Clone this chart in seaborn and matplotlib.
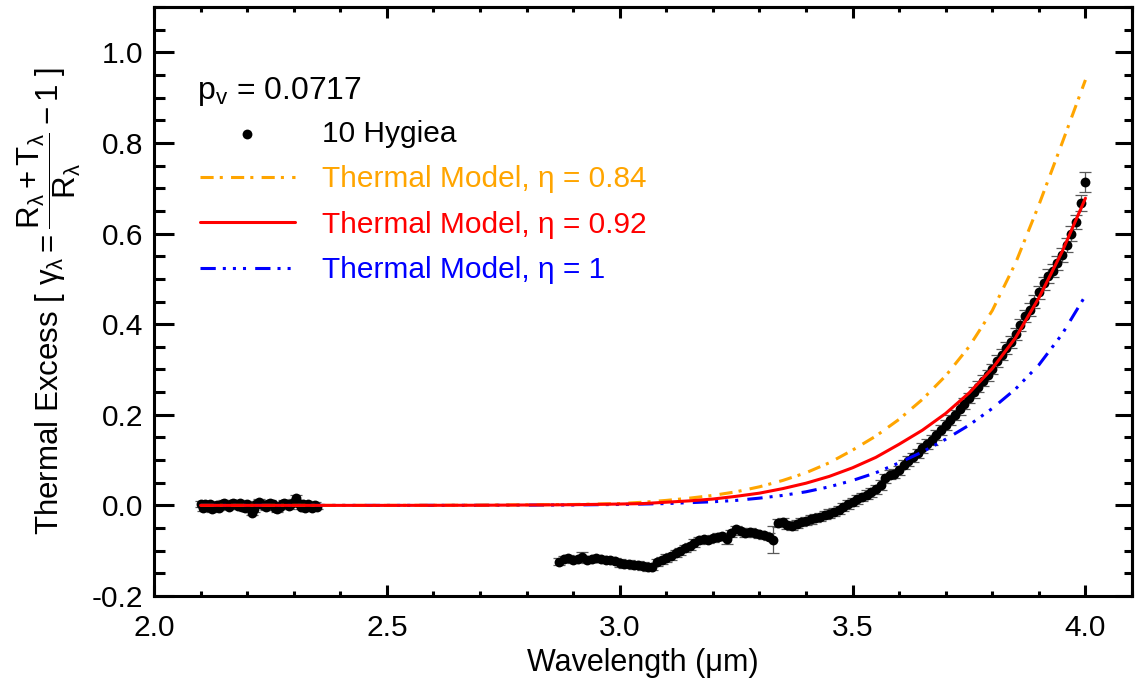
import numpy as np
import matplotlib
matplotlib.use("Agg")
import matplotlib.pyplot as plt
import seaborn as sns
from matplotlib.ticker import MultipleLocator, FormatStrFormatter

# ---------------------------------------------------------------- data
# 10 Hygiea thermal excess, short-wavelength segment (2.100 - 2.350 um, 0.005 um step)
short_wl = np.round(np.arange(2.100, 2.3501, 0.005), 3)
short_excess = [0.003, -0.006, 0.002, -0.004, 0.004, -0.008, -0.003, 0.001, -0.005, 0.003,
                0.005, 0.001, -0.003, 0.004, 0.006, 0.002, -0.002, 0.005, -0.004, -0.006,
                0.002, -0.003, -0.016, -0.009, 0.003, 0.007, 0.004, 0.001, -0.004, 0.003,
                0.006, 0.002, -0.005, -0.008, -0.003, 0.002, 0.005, 0.003, -0.002, 0.004,
                0.007, 0.016, 0.005, -0.003, 0.002, -0.006, 0.003, -0.002, -0.005, 0.001,
                -0.003]
short_err = [0.006] * 51

# long-wavelength segment (2.87 - 4.00 um, 0.01 um step)
long_wl = np.round(np.arange(2.87, 4.0001, 0.01), 2)
long_excess = [-0.124, -0.119, -0.117, -0.121, -0.118, -0.114, -0.120, -0.118, -0.116, -0.119,
               -0.121, -0.120, -0.123, -0.127, -0.130, -0.129, -0.132, -0.131, -0.134, -0.137,
               -0.135, -0.126, -0.121, -0.116, -0.112, -0.106, -0.101, -0.095, -0.090, -0.083,
               -0.077, -0.075, -0.076, -0.073, -0.069, -0.068, -0.075, -0.062, -0.053, -0.057,
               -0.061, -0.059, -0.062, -0.064, -0.066, -0.069, -0.076, -0.038, -0.036, -0.043,
               -0.046, -0.041, -0.037, -0.034, -0.031, -0.028, -0.025, -0.021, -0.018, -0.014,
               -0.010, -0.004, 0.002, 0.008, 0.013, 0.018, 0.024, 0.029, 0.036, 0.045,
               0.060, 0.068, 0.070, 0.078, 0.090, 0.098, 0.106, 0.115, 0.126, 0.135,
               0.145, 0.156, 0.167, 0.178, 0.189, 0.200, 0.212, 0.224, 0.237, 0.250,
               0.262, 0.275, 0.287, 0.301, 0.318, 0.333, 0.347, 0.361, 0.378, 0.398,
               0.418, 0.432, 0.450, 0.470, 0.490, 0.506, 0.518, 0.535, 0.552, 0.575,
               0.600, 0.625, 0.668, 0.713]
long_err = [0.007, 0.007, 0.007, 0.007, 0.007, 0.011, 0.007, 0.007, 0.007, 0.007,
            0.007, 0.007, 0.007, 0.008, 0.008, 0.008, 0.008, 0.008, 0.008, 0.008,
            0.008, 0.008, 0.008, 0.008, 0.008, 0.008, 0.008, 0.008, 0.008, 0.008,
            0.008, 0.008, 0.008, 0.008, 0.008, 0.008, 0.010, 0.008, 0.008, 0.008,
            0.008, 0.008, 0.008, 0.008, 0.008, 0.008, 0.030, 0.009, 0.009, 0.009,
            0.009, 0.009, 0.009, 0.009, 0.009, 0.009, 0.009, 0.009, 0.009, 0.009,
            0.009, 0.009, 0.009, 0.009, 0.009, 0.009, 0.010, 0.010, 0.010, 0.010,
            0.010, 0.010, 0.010, 0.010, 0.010, 0.010, 0.010, 0.010, 0.011, 0.011,
            0.011, 0.011, 0.011, 0.011, 0.011, 0.011, 0.012, 0.012, 0.012, 0.012,
            0.012, 0.012, 0.012, 0.012, 0.013, 0.013, 0.013, 0.013, 0.013, 0.013,
            0.014, 0.014, 0.014, 0.014, 0.014, 0.015, 0.015, 0.015, 0.015, 0.016,
            0.016, 0.016, 0.018, 0.022]

# thermal model curves
model_wl = [2.10, 2.30, 2.50, 2.70, 2.90, 3.00, 3.05, 3.10, 3.15, 3.20, 3.25, 3.30, 3.35,
            3.40, 3.45, 3.50, 3.55, 3.60, 3.65, 3.70, 3.75, 3.80, 3.85, 3.90, 3.95, 4.00]
model_084 = [0.0, 0.0, 0.0, 0.0005, 0.002, 0.004, 0.007, 0.011, 0.016, 0.022, 0.030, 0.041,
             0.055, 0.072, 0.094, 0.122, 0.153, 0.190, 0.234, 0.286, 0.350, 0.430, 0.535,
             0.663, 0.800, 0.939]
model_092 = [0.0, 0.0, 0.0, 0.0003, 0.0015, 0.003, 0.004, 0.007, 0.010, 0.014, 0.020, 0.027,
             0.037, 0.049, 0.064, 0.083, 0.106, 0.135, 0.166, 0.203, 0.248, 0.302, 0.370,
             0.458, 0.560, 0.678]
model_100 = [0.0, 0.0, 0.0, 0.0002, 0.001, 0.002, 0.003, 0.004, 0.006, 0.008, 0.011, 0.016,
             0.022, 0.030, 0.041, 0.055, 0.072, 0.094, 0.118, 0.146, 0.177, 0.214, 0.257,
             0.310, 0.378, 0.463]

albedo_text = r"$\mathrm{p_v}$ = 0.0717"
label_data = "10 Hygiea"
label_084 = "Thermal Model, η = 0.84"
label_092 = "Thermal Model, η = 0.92"
label_100 = "Thermal Model, η = 1"

# ---------------------------------------------------------------- style
sns.set_style("ticks")
plt.rcParams["font.family"] = ["Liberation Sans", "DejaVu Sans"]
plt.rcParams["mathtext.fontset"] = "custom"
plt.rcParams["mathtext.rm"] = "Liberation Sans"
plt.rcParams["mathtext.it"] = "Liberation Sans:italic"
plt.rcParams["mathtext.bf"] = "Liberation Sans:bold"
plt.rcParams["mathtext.sf"] = "Liberation Sans"
for key in ["text.color", "axes.labelcolor", "xtick.color", "ytick.color", "axes.edgecolor"]:
    plt.rcParams[key] = "black"
FS = 21.5

fig = plt.figure(figsize=(11.35, 6.86), dpi=100)
ax = fig.add_axes([154 / 1135, 1 - 596 / 686, (1132 - 154) / 1135, (596 - 7) / 686])

# ---------------------------------------------------------------- data points
all_wl = np.concatenate([short_wl, long_wl])
all_y = np.concatenate([short_excess, long_excess])
all_err = np.concatenate([short_err, long_err])
ax.errorbar(all_wl, all_y, yerr=all_err, fmt="none", ecolor="0.35",
            elinewidth=0.9, capsize=4, capthick=0.9, zorder=2)
sns.scatterplot(x=all_wl, y=all_y, color="black", s=50, linewidth=0,
                ax=ax, zorder=3, label=label_data)

# ---------------------------------------------------------------- model curves
lw = 2.2
sns.lineplot(x=model_wl, y=model_100, color="#0000FF", lw=lw, sort=False, estimator=None,
             linestyle=(0, (5, 2.3, 1, 2.3, 1, 2.3, 1, 3)), ax=ax, zorder=4, label=label_100)
sns.lineplot(x=model_wl, y=model_084, color="#FFA500", lw=lw, sort=False, estimator=None,
             linestyle=(0, (4.3, 2, 1, 2.7)), ax=ax, zorder=4, label=label_084)
sns.lineplot(x=model_wl, y=model_092, color="#FF0000", lw=lw, sort=False, estimator=None,
             linestyle="-", ax=ax, zorder=5, label=label_092)

# ---------------------------------------------------------------- axes
ax.set_xlim(2.0, 4.1)
ax.set_ylim(-0.2, 1.1)
ax.xaxis.set_major_locator(MultipleLocator(0.5))
ax.xaxis.set_minor_locator(MultipleLocator(0.1))
ax.yaxis.set_major_locator(MultipleLocator(0.2))
ax.yaxis.set_minor_locator(MultipleLocator(0.05))
ax.xaxis.set_major_formatter(FormatStrFormatter("%.1f"))
ax.yaxis.set_major_formatter(FormatStrFormatter("%.1f"))

for s in ax.spines.values():
    s.set_linewidth(2.2)
    s.set_color("black")
    s.set_visible(True)

ax.tick_params(axis="x", which="major", direction="in", length=7.9, width=2.2,
               labelsize=FS, pad=13, top=False)
ax.tick_params(axis="x", which="minor", direction="in", length=3.6, width=2.2, top=False)
ax.tick_params(axis="y", which="major", direction="in", length=14.4, width=2.2,
               labelsize=FS, pad=8, right=False)
ax.tick_params(axis="y", which="minor", direction="in", length=7.9, width=2.2, right=False)

top = ax.secondary_xaxis("top")
top.xaxis.set_major_locator(MultipleLocator(0.5))
top.xaxis.set_minor_locator(MultipleLocator(0.1))
top.tick_params(axis="x", which="major", direction="in", length=7.9, width=2.2, labeltop=False)
top.tick_params(axis="x", which="minor", direction="in", length=3.6, width=2.2)
top.spines["top"].set_linewidth(2.2)

right = ax.secondary_yaxis("right")
right.yaxis.set_major_locator(MultipleLocator(0.2))
right.yaxis.set_minor_locator(MultipleLocator(0.05))
right.tick_params(axis="y", which="major", direction="in", length=12.2, width=2.2, labelright=False)
right.tick_params(axis="y", which="minor", direction="in", length=5.8, width=2.2)
right.spines["right"].set_linewidth(2.2)

ax.set_xlabel("Wavelength (μm)", fontsize=FS + 0.5, labelpad=4)
ax.set_ylabel(r"Thermal Excess [ $\mathrm{\gamma_\lambda = \dfrac{R_\lambda + T_\lambda}{R_\lambda} - 1}$ ]",
              fontsize=FS + 1, labelpad=6)

# ---------------------------------------------------------------- annotations
ax.text(0.044, 0.844, albedo_text, transform=ax.transAxes, fontsize=FS + 1.5,
        ha="left", va="baseline")

handles, labels = ax.get_legend_handles_labels()
order = [label_data, label_084, label_092, label_100]
hmap = dict(zip(labels, handles))
leg = ax.legend([hmap[k] for k in order], order, loc="upper left",
                bbox_to_anchor=(0.047, 0.808), frameon=False, fontsize=FS,
                handlelength=3.17, handletextpad=0.93, labelspacing=0.58,
                borderpad=0, borderaxespad=0, scatterpoints=1,
                labelcolor=["black", "#FFA500", "#FF0000", "#0000FF"])

fig.savefig("out.png", dpi=100)
